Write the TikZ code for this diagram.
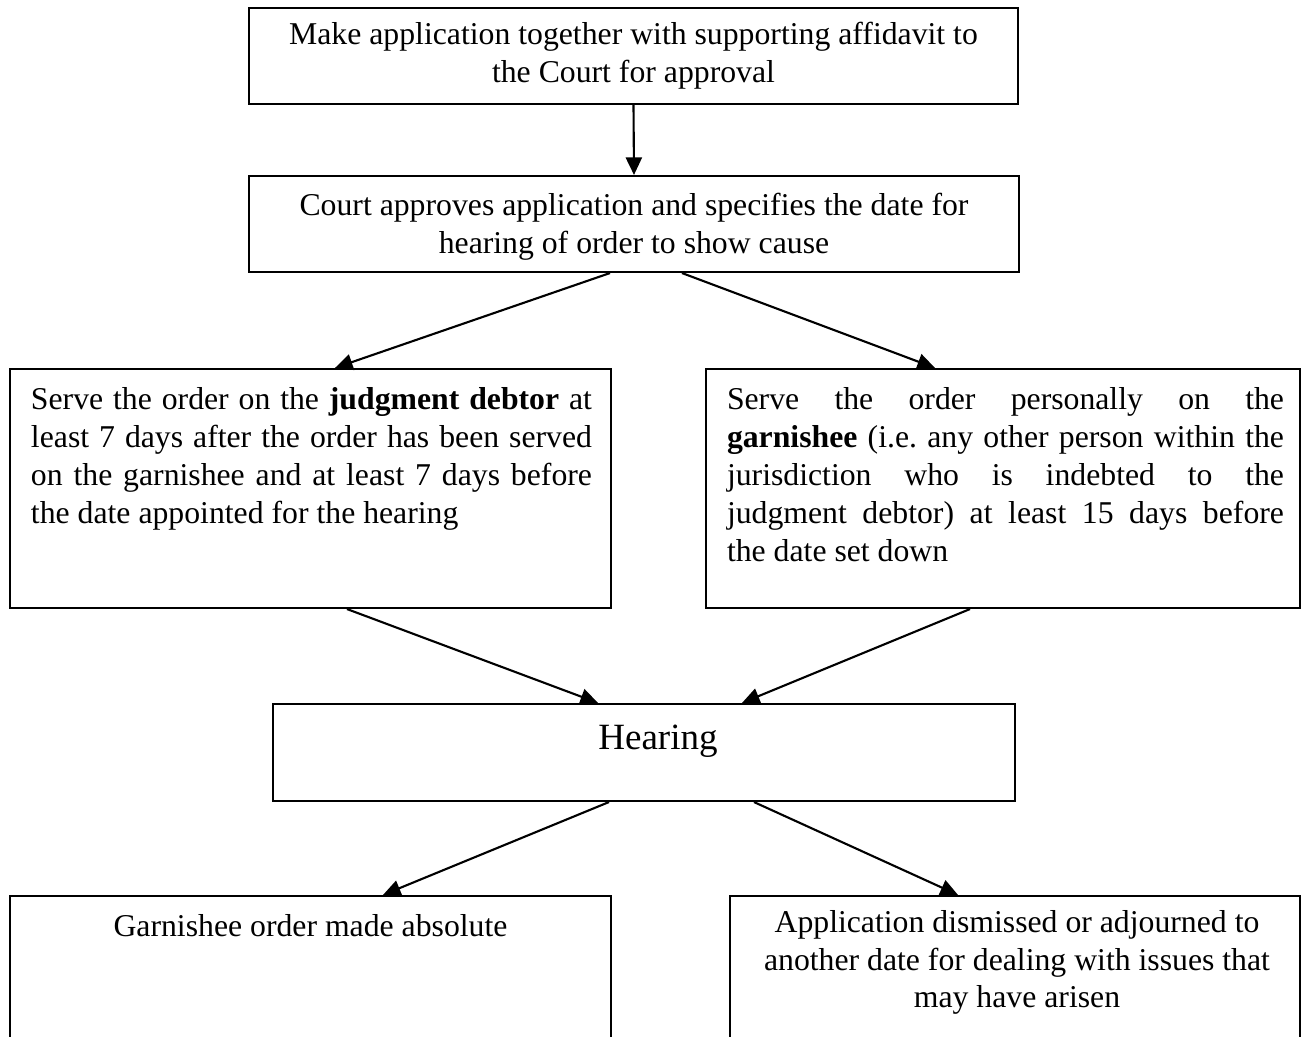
\documentclass[tikz,border=0pt]{standalone}
\usepackage{fontspec}
\setmainfont{Liberation Serif}
\usetikzlibrary{arrows.meta, positioning, calc}

\begin{document}
\begin{tikzpicture}[
    >={Triangle[length=5pt, width=4.6pt]},
    box/.style={rectangle, draw, line width=0.6pt, inner sep=0pt},
    txt/.style={inner sep=0pt, font=\fontsize{9.03}{10.8}\selectfont, execute at begin node=\strut},
    conn/.style={->, line width=0.6pt}
]

% -------- Page frame --------
\useasboundingbox (0,0) rectangle (13.01,-10.37);
\clip (0,0) rectangle (13.01,-10.37);

% -------- Boxes --------
\node[box, minimum width=7.69cm, minimum height=0.96cm] (apply) at (6.335,-0.56) {};
\node[box, minimum width=7.70cm, minimum height=0.96cm] (approve) at (6.34,-2.24) {};

\node[box, minimum width=6.01cm, minimum height=2.39cm] (debtor) at (3.105,-4.885) {};
\node[box, minimum width=5.94cm, minimum height=2.39cm] (garn) at (10.03,-4.885) {};

\node[box, minimum width=7.42cm, minimum height=0.97cm] (hearing) at (6.44,-7.525) {};

% bottom boxes run off the page
\node[box, minimum width=6.01cm, minimum height=1.64cm] (absolute) at (3.105,-9.78) {};
\node[box, minimum width=5.70cm, minimum height=1.64cm] (dismiss) at (10.15,-9.78) {};

% -------- Texts --------
\node[txt, anchor=north, align=center] (applytxt) at ([yshift=-0.15cm]apply.north)
    {Make application together with supporting affidavit to\\the Court for approval};
\node[txt, anchor=north, align=center] (approvetxt) at ([yshift=-0.18cm]approve.north)
    {Court approves application and specifies the date for\\hearing of order to show cause};

\node[txt, anchor=north, text width=5.61cm, align=justify] (debtortxt) at ([xshift=0.01cm, yshift=-0.144cm]debtor.north)
    {\frenchspacing Serve the order on the \textbf{judgment debtor} at\linebreak
     least 7 days after the order has been served\linebreak
     on the garnishee and at least 7 days before\linebreak
     the date appointed for the hearing};
\node[txt, anchor=north, text width=5.57cm, align=justify] (garntxt) at ([xshift=0.025cm, yshift=-0.144cm]garn.north)
    {\frenchspacing Serve the order personally on the\linebreak
     \textbf{garnishee} (i.e. any other person within the\linebreak
     jurisdiction who is indebted to the\linebreak
     judgment debtor) at least 15 days before\linebreak
     the date set down};

\node[anchor=base, inner sep=0pt, font=\fontsize{10.54}{12}\selectfont] (hearingtxt) at ([xshift=0.14cm, yshift=0.025cm]hearing.center) {Hearing};

\node[txt, anchor=north, align=center] (absolutetxt) at ([yshift=-0.144cm]absolute.north)
    {Garnishee order made absolute};
\node[txt, anchor=north, align=center] (dismisstxt) at ([xshift=0.02cm, yshift=-0.144cm]dismiss.north)
    {Application dismissed or adjourned to\\another date for dealing with issues that\\may have arisen};

% -------- Connectors --------
\draw[conn] (apply.south) -- (approve.north);

\draw[conn] ([xshift=-0.24cm]approve.south) -- ([xshift=0.245cm]debtor.north);
\draw[conn] ([xshift=0.48cm]approve.south) -- ([xshift=-0.68cm]garn.north);

\draw[conn] ([xshift=0.365cm]debtor.south) -- ([xshift=-0.46cm]hearing.north);
\draw[conn] ([xshift=-0.33cm]garn.south) -- ([xshift=0.98cm]hearing.north);

\draw[conn] ([xshift=-0.35cm]hearing.south) -- ([xshift=0.725cm]absolute.north);
\draw[conn] ([xshift=1.10cm]hearing.south) -- ([xshift=-0.57cm]dismiss.north);

\end{tikzpicture}
\end{document}
